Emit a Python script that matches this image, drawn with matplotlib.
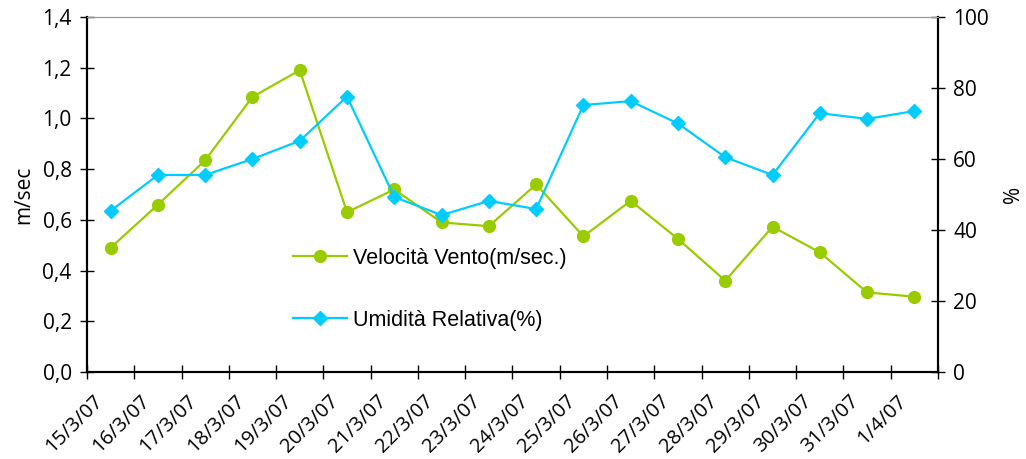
import numpy as np
import matplotlib
matplotlib.use("Agg")
import matplotlib.pyplot as plt
import matplotlib.transforms as mtransforms

plt.rcParams['font.family'] = ['Open Sans', 'DejaVu Sans']

dates = ['15/3/07', '16/3/07', '17/3/07', '18/3/07', '19/3/07', '20/3/07',
         '21/3/07', '22/3/07', '23/3/07', '24/3/07', '25/3/07', '26/3/07',
         '27/3/07', '28/3/07', '29/3/07', '30/3/07', '31/3/07', '1/4/07']
vento = [0.49, 0.66, 0.835, 1.085, 1.19, 0.63, 0.72, 0.59, 0.575, 0.74,
         0.535, 0.675, 0.525, 0.36, 0.573, 0.472, 0.314, 0.297]
umidita = [45.4, 55.5, 55.5, 60.0, 65.1, 77.6, 49.3, 44.2, 48.2, 45.9,
           75.2, 76.3, 70.0, 60.5, 55.5, 72.9, 71.3, 73.5]

green = '#99CC00'
blue = '#00CCFF'

fig = plt.figure(figsize=(10.26, 4.59), dpi=100)
ax = fig.add_axes([0.0848, 0.1895, 0.9142 - 0.0848, 0.963 - 0.1895])
ax2 = ax.twinx()

x = np.arange(len(dates)) + 0.5
l1, = ax.plot(x, vento, color=green, lw=1.6, marker='o', ms=8.5,
              label='Velocità Vento(m/sec.)')
l2, = ax2.plot(x, umidita, color=blue, lw=1.6, marker='D', ms=7.5,
               label='Umidità Relativa(%)')

ax.set_xlim(0, len(dates))
ax.set_ylim(0, 1.4)
ax2.set_ylim(0, 100)

ax.set_yticks(np.arange(0, 1.41, 0.2))
ax.set_yticklabels([f'{v:.1f}'.replace('.', ',') for v in np.arange(0, 1.41, 0.2)])
ax2.set_yticks(np.arange(0, 101, 20))

ax.set_xticks(np.arange(len(dates) + 1))
ax.set_xticklabels([])
ax.set_xticks(x, minor=True)
ax.set_xticklabels(dates, minor=True, rotation=45, ha='right', va='top',
                   rotation_mode='anchor')
ax.tick_params(axis='x', which='minor', length=0, pad=8, labelsize=14.5)
ax.tick_params(axis='x', which='major', direction='inout', length=10, width=1)
ax.tick_params(axis='y', direction='inout', length=10, width=1, labelsize=15, pad=6)
ax2.tick_params(axis='y', direction='inout', length=10, width=1, labelsize=15, pad=6)

# shift date labels a bit left/down like the original
offset = mtransforms.ScaledTranslation(-0.18, -0.08, fig.dpi_scale_trans)
for lab in ax.get_xticklabels(minor=True):
    lab.set_transform(lab.get_transform() + offset)

for a in (ax, ax2):
    a.spines['top'].set_color('#999999')
    a.spines['left'].set_linewidth(1.5)
    a.spines['bottom'].set_linewidth(1.5)
    a.spines['right'].set_linewidth(1.5)

ax.set_ylabel('m/sec', fontsize=15, labelpad=6)
ax2.set_ylabel('%', fontsize=15, labelpad=10)

fig.legend(handles=[l1, l2], loc='center left', bbox_to_anchor=(0.2855, 0.370),
           frameon=False, borderpad=0, borderaxespad=0, handlelength=2.5,
           handletextpad=0.3, labelspacing=1.9,
           prop={'family': 'Liberation Sans', 'size': 15.5})

fig.savefig('out.png', dpi=100)
